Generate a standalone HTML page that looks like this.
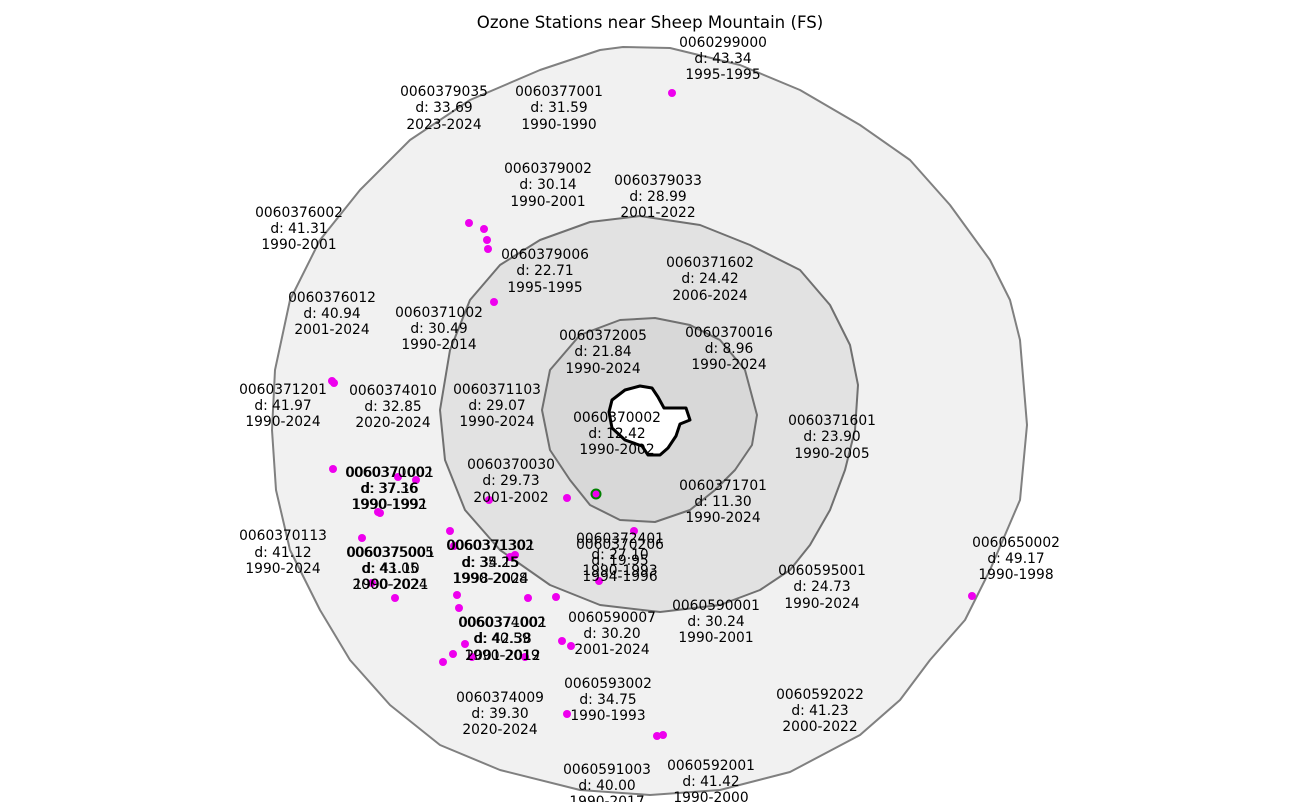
<!DOCTYPE html>
<html><head><meta charset="utf-8"><style>
html,body{margin:0;padding:0;background:#fff;}
svg{display:block;}
text{font-family:"DejaVu Sans","Liberation Sans",sans-serif;font-size:13.8px;fill:#000;text-anchor:middle;}
</style></head><body>
<svg width="1300" height="802" viewBox="0 0 1300 802" xmlns="http://www.w3.org/2000/svg">
<text x="650" y="28" style="font-size:16.6px">Ozone Stations near Sheep Mountain (FS)</text>
<g stroke-linejoin="round">
<path d="M623,47 L670,48 L740,65 L800,90 L860,125 L910,160 L950,205 L990,260 L1010,300 L1020,340 L1027,425 L1020,500 L990,570 L965,620 L930,660 L900,700 L860,735 L790,772 L720,790 L650,795 L580,790 L500,770 L440,745 L390,705 L350,660 L320,610 L290,550 L276,490 L272,430 L275,370 L290,300 L320,240 L360,190 L410,140 L470,100 L540,70 L600,50 Z" fill="#f1f1f1" stroke="#808080" stroke-width="2"/>
<path d="M640,216 L700,225 L750,245 L800,270 L830,305 L850,345 L858,385 L855,430 L845,470 L830,510 L810,545 L790,570 L760,590 L720,605 L660,612 L600,605 L550,585 L500,550 L465,510 L445,460 L440,410 L450,350 L470,300 L500,265 L540,240 L590,222 Z" fill="#e2e2e2" stroke="#707070" stroke-width="2"/>
<path d="M655,318 L690,325 L720,340 L745,370 L757,415 L752,445 L735,470 L715,490 L690,510 L655,522 L620,520 L590,505 L570,480 L550,450 L542,410 L550,370 L580,335 L620,320 Z" fill="#d8d8d8" stroke="#707070" stroke-width="2"/>
<path d="M612,400 L625,390 L640,386 L652,388 L658,397 L664,408 L686,408 L690,420 L680,424 L676,436 L668,448 L660,455 L648,455 L642,446 L625,440 L612,428 L609,412 Z" fill="#fff" stroke="#000" stroke-width="3"/>
</g>
<g fill="#ee00ee">
<circle cx="672" cy="93" r="4"/><circle cx="469" cy="223" r="4"/><circle cx="484" cy="229" r="4"/><circle cx="487" cy="240" r="4"/><circle cx="488" cy="249" r="4"/><circle cx="494" cy="302" r="4"/>
<circle cx="332" cy="381" r="4"/><circle cx="334" cy="383" r="4"/><circle cx="333" cy="469" r="4"/><circle cx="398" cy="477" r="4"/><circle cx="416" cy="480" r="4"/><circle cx="378" cy="512" r="4"/><circle cx="380" cy="513" r="4"/>
<circle cx="362" cy="538" r="4"/><circle cx="372" cy="583" r="4"/><circle cx="395" cy="598" r="4"/><circle cx="450" cy="531" r="4"/><circle cx="454" cy="546" r="4"/><circle cx="510" cy="557" r="4"/><circle cx="515" cy="555" r="4"/>
<circle cx="489" cy="500" r="4"/><circle cx="567" cy="498" r="4"/><circle cx="634" cy="531" r="4"/><circle cx="599" cy="581" r="4"/>
<circle cx="457" cy="595" r="4"/><circle cx="459" cy="608" r="4"/><circle cx="528" cy="598" r="4"/><circle cx="556" cy="597" r="4"/>
<circle cx="465" cy="644" r="4"/><circle cx="453" cy="654" r="4"/><circle cx="443" cy="662" r="4"/><circle cx="472" cy="657" r="4"/><circle cx="525" cy="657" r="4"/><circle cx="562" cy="641" r="4"/><circle cx="571" cy="646" r="4"/>
<circle cx="567" cy="714" r="4"/><circle cx="657" cy="736" r="4"/><circle cx="663" cy="735" r="4"/><circle cx="972" cy="596" r="4"/>
</g>
<circle cx="596" cy="494" r="4.5" fill="#ee00ee" stroke="#008000" stroke-width="2"/>
<g>
<text x="723" y="47">0060299000</text><text x="723" y="63">d: 43.34</text><text x="723" y="79">1995-1995</text>
<text x="444" y="96">0060379035</text><text x="444" y="112">d: 33.69</text><text x="444" y="129">2023-2024</text>
<text x="559" y="96">0060377001</text><text x="559" y="112">d: 31.59</text><text x="559" y="129">1990-1990</text>
<text x="548" y="173">0060379002</text><text x="548" y="189">d: 30.14</text><text x="548" y="206">1990-2001</text>
<text x="658" y="185">0060379033</text><text x="658" y="201">d: 28.99</text><text x="658" y="217">2001-2022</text>
<text x="299" y="217">0060376002</text><text x="299" y="233">d: 41.31</text><text x="299" y="249">1990-2001</text>
<text x="545" y="259">0060379006</text><text x="545" y="275">d: 22.71</text><text x="545" y="292">1995-1995</text>
<text x="710" y="267">0060371602</text><text x="710" y="283">d: 24.42</text><text x="710" y="300">2006-2024</text>
<text x="332" y="302">0060376012</text><text x="332" y="318">d: 40.94</text><text x="332" y="334">2001-2024</text>
<text x="439" y="317">0060371002</text><text x="439" y="333">d: 30.49</text><text x="439" y="349">1990-2014</text>
<text x="603" y="340">0060372005</text><text x="603" y="356">d: 21.84</text><text x="603" y="373">1990-2024</text>
<text x="729" y="337">0060370016</text><text x="729" y="353">d: 8.96</text><text x="729" y="369">1990-2024</text>
<text x="283" y="394">0060371201</text><text x="283" y="410">d: 41.97</text><text x="283" y="426">1990-2024</text>
<text x="393" y="395">0060374010</text><text x="393" y="411">d: 32.85</text><text x="393" y="427">2020-2024</text>
<text x="497" y="394">0060371103</text><text x="497" y="410">d: 29.07</text><text x="497" y="426">1990-2024</text>
<text x="617" y="422">0060370002</text><text x="617" y="438">d: 12.42</text><text x="617" y="454">1990-2002</text>
<text x="832" y="425">0060371601</text><text x="832" y="441">d: 23.90</text><text x="832" y="458">1990-2005</text>
<text x="389" y="477">0060370002</text><text x="389" y="493">d: 37.36</text><text x="389" y="509">1990-1992</text>
<text x="390" y="477">0060371001</text><text x="390" y="493">d: 37.16</text><text x="390" y="509">1990-1991</text>
<text x="511" y="469">0060370030</text><text x="511" y="485">d: 29.73</text><text x="511" y="502">2001-2002</text>
<text x="723" y="490">0060371701</text><text x="723" y="506">d: 11.30</text><text x="723" y="522">1990-2024</text>
<text x="283" y="540">0060370113</text><text x="283" y="557">d: 41.12</text><text x="283" y="573">1990-2024</text>
<text x="390" y="557">0060375005</text><text x="390" y="573">d: 43.05</text><text x="390" y="589">2000-2024</text>
<text x="391" y="557">0060375001</text><text x="391" y="573">d: 41.10</text><text x="391" y="589">1990-2021</text>
<text x="490" y="550">0060371302</text><text x="490" y="567">d: 35.25</text><text x="490" y="583">1990-2008</text>
<text x="491" y="550">0060371301</text><text x="491" y="567">d: 34.15</text><text x="491" y="583">1998-2024</text>
<text x="620" y="543">0060372401</text><text x="620" y="559">d: 27.10</text><text x="620" y="575">1990-1993</text>
<text x="620" y="549">0060370206</text><text x="620" y="565">d: 19.95</text><text x="620" y="581">1994-1996</text>
<text x="1016" y="547">0060650002</text><text x="1016" y="563">d: 49.17</text><text x="1016" y="579">1990-1998</text>
<text x="822" y="575">0060595001</text><text x="822" y="591">d: 24.73</text><text x="822" y="608">1990-2024</text>
<text x="502" y="627">0060374002</text><text x="502" y="643">d: 40.59</text><text x="502" y="660">1990-2019</text>
<text x="503" y="627">0060371001</text><text x="503" y="643">d: 42.38</text><text x="503" y="660">2001-2012</text>
<text x="716" y="610">0060590001</text><text x="716" y="626">d: 30.24</text><text x="716" y="642">1990-2001</text>
<text x="612" y="622">0060590007</text><text x="612" y="638">d: 30.20</text><text x="612" y="654">2001-2024</text>
<text x="608" y="688">0060593002</text><text x="608" y="704">d: 34.75</text><text x="608" y="720">1990-1993</text>
<text x="500" y="702">0060374009</text><text x="500" y="718">d: 39.30</text><text x="500" y="734">2020-2024</text>
<text x="820" y="699">0060592022</text><text x="820" y="715">d: 41.23</text><text x="820" y="731">2000-2022</text>
<text x="607" y="774">0060591003</text><text x="607" y="790">d: 40.00</text><text x="607" y="806">1990-2017</text>
<text x="711" y="770">0060592001</text><text x="711" y="786">d: 41.42</text><text x="711" y="802">1990-2000</text>
</g>
</svg>
</body></html>
